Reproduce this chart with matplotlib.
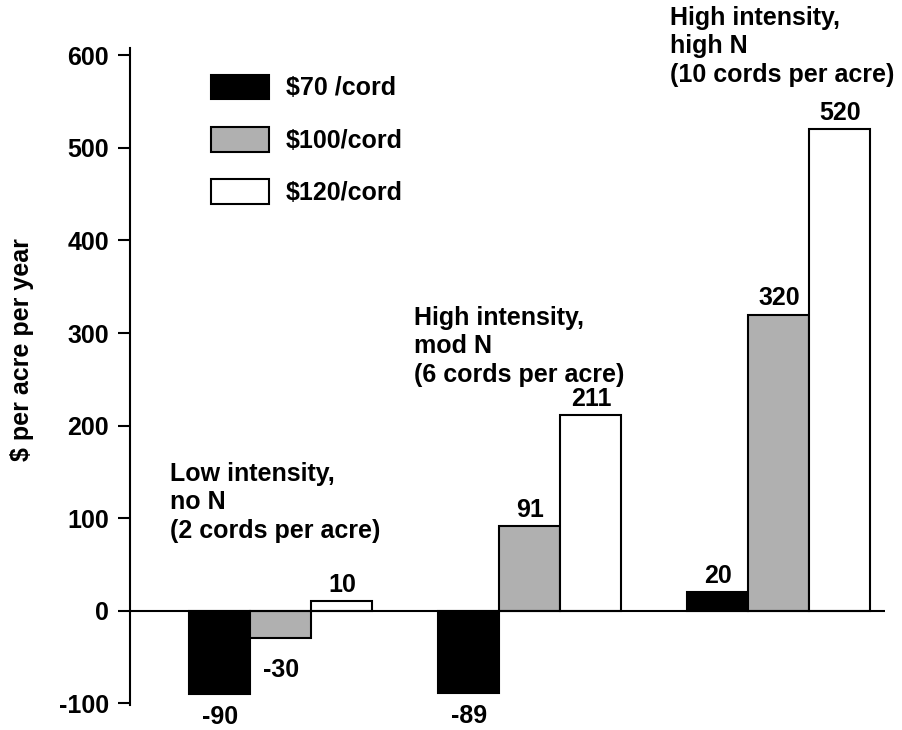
import matplotlib
matplotlib.use("Agg")
import matplotlib.pyplot as plt
import numpy as np

plt.rcParams['font.family'] = ['Liberation Sans', 'DejaVu Sans']

groups = ["Low intensity,\nno N\n(2 cords per acre)",
          "High intensity,\nmod N\n(6 cords per acre)",
          "High intensity,\nhigh N\n(10 cords per acre)"]
series_names = [r"\$70 /cord", r"\$100/cord", r"\$120/cord"]
vals_70 = [-90, -89, 20]
vals_100 = [-30, 91, 320]
vals_120 = [10, 211, 520]
yticks = [-100, 0, 100, 200, 300, 400, 500, 600]

FS = 18
fig = plt.figure(figsize=(9.02, 7.3), dpi=100)
ax = fig.add_axes([130/902, 25/730, (885-130)/902, (705-48)/730])

x = np.arange(len(groups))
w = 0.245
colors = ['black', '#b0b0b0', 'white']
series = [vals_70, vals_100, vals_120]
bars = []
for i, (vals, c, name) in enumerate(zip(series, colors, series_names)):
    b = ax.bar(x + (i - 1) * w, vals, w, color=c, edgecolor='black', linewidth=1.5,
               label=name, zorder=2)
    bars.append(b)
    for xi, v in zip(x + (i - 1) * w, vals):
        if v >= 0:
            ax.annotate(str(v), (xi, v), xytext=(0, 3), textcoords='offset points',
                        ha='center', va='bottom', fontsize=FS, fontweight='bold')
        else:
            off = -14 if i == 1 else -8
            ax.annotate(str(v), (xi, v), xytext=(0, off), textcoords='offset points',
                        ha='center', va='top', fontsize=FS, fontweight='bold',
                        annotation_clip=False)

ax.axhline(0, color='black', linewidth=1.5, zorder=3)

ax.set_xlim(-0.606, 2.426)
ax.set_ylim(-102, 608)
ax.set_yticks(yticks)
ax.set_yticklabels([str(t) for t in yticks], fontsize=FS, fontweight='bold')
ax.tick_params(axis='y', direction='out', length=9, width=1.5, pad=6)
ax.set_xticks([])
for s in ['top', 'right', 'bottom']:
    ax.spines[s].set_visible(False)
ax.spines['left'].set_linewidth(1.5)
ax.set_ylabel(r"\$ per acre per year", fontsize=FS, fontweight='bold')
ax.yaxis.set_label_coords((34-130)/755, (705-350)/657)

label_pos = [(170, 462), (414, 306), (670, 6)]
for (px, py), g in zip(label_pos, groups):
    fig.text(px/902, 1 - py/730, g, ha='left', va='top', fontsize=FS,
             fontweight='bold', linespacing=1.23)

leg = ax.legend(handles=bars, loc='upper left', bbox_to_anchor=(188/902, 1 - 52/730),
                bbox_transform=fig.transFigure, frameon=False,
                handlelength=2.32, handleheight=1.15, labelspacing=1.06,
                handletextpad=0.68, prop={'weight': 'bold', 'size': FS})

fig.savefig("out.png", dpi=100)
